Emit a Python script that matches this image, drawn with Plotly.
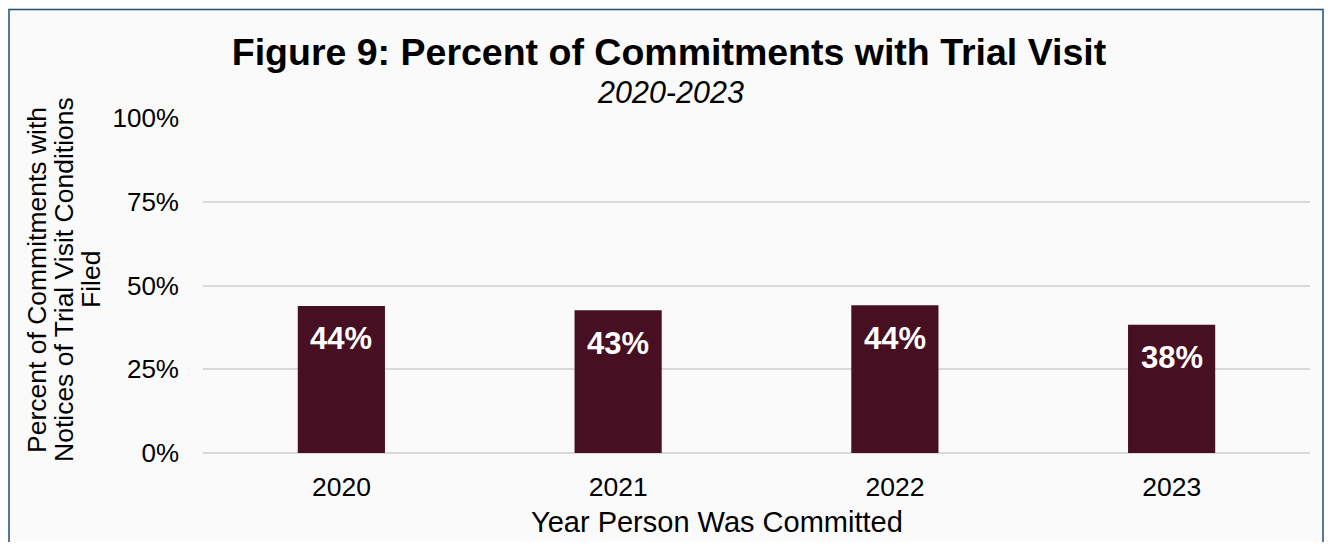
import plotly.graph_objects as go

years = ["2020", "2021", "2022", "2023"]
pct = [43.9, 42.6, 44.1, 38.3]
y_ticks = [0, 25, 50, 75, 100]
y_tick_text = ["0%", "25%", "50%", "75%", "100%"]
y_title_lines = ["Percent of Commitments with", "Notices of Trial Visit Conditions", "Filed"]

BAR = "#460F22"
FONT = "Liberation Sans, Arial, sans-serif"

# the page body has an 8px margin: figure pixel = screen pixel - 8
OFF = 8
W, H = 1332 - 2 * OFF, 550 - 2 * OFF
# plot area in screen pixels
L, R, T, B = 203, 1310, 118, 453
PW, PH = R - L, B - T


def px(x):
    return (x - L) / PW


def py(y):
    return (B - y) / PH


fig = go.Figure()
fig.add_trace(go.Bar(x=years, y=pct, marker=dict(color=BAR, line=dict(width=0)),
                     width=0.315, hoverinfo="skip"))

for i, v in enumerate(pct):
    fig.add_annotation(x=i, y=v, xref="x", yref="y", text=f"{round(v)}%",
                       showarrow=False, yanchor="middle", yshift=-33,
                       font=dict(family=FONT, size=31, color="white", weight="bold"))

fig.update_layout(
    width=W, height=H,
    margin=dict(l=L - OFF, r=W - (R - OFF), t=T - OFF, b=H - (B - OFF), autoexpand=False),
    paper_bgcolor="#FAFAFA", plot_bgcolor="#FAFAFA",
    showlegend=False,
    title=dict(text="<b>Figure 9: Percent of Commitments with Trial Visit</b>",
               x=(669 - OFF) / W, xref="container", xanchor="center",
               y=1 - (52 - OFF) / H, yref="container", yanchor="middle",
               font=dict(family=FONT, size=37.5, color="black")),
    font=dict(family=FONT, color="black"),
)

fig.add_annotation(text="<i>2020-2023</i>", xref="paper", yref="paper",
                   x=px(670), y=py(92), showarrow=False,
                   xanchor="center", yanchor="middle",
                   font=dict(family=FONT, size=30.5, color="black"))

for line, cx in zip(y_title_lines, [37, 64, 91]):
    fig.add_annotation(text=line, xref="paper", yref="paper", x=px(cx), y=py(280),
                       textangle=-90, showarrow=False, align="center",
                       xanchor="center", yanchor="middle",
                       font=dict(family=FONT, size=26.5, color="black"))

fig.add_annotation(text="Year Person Was Committed", xref="paper", yref="paper",
                   x=px(717), y=py(522), showarrow=False,
                   xanchor="center", yanchor="middle",
                   font=dict(family=FONT, size=29, color="black"))

fig.update_xaxes(type="category", range=[-0.5, 3.5], showline=False, showgrid=False,
                 ticks="", ticklabelstandoff=15, automargin=False,
                 tickfont=dict(family=FONT, size=26.5, color="black"))
fig.update_yaxes(range=[0, 100], tickvals=y_ticks, ticktext=y_tick_text,
                 showgrid=True, gridcolor="#D9D9D9", gridwidth=1.5,
                 zeroline=True, zerolinecolor="#D9D9D9", zerolinewidth=1.5,
                 showline=False, ticks="", ticklabelstandoff=23, automargin=False,
                 tickfont=dict(family=FONT, size=26, color="black"))

# outer border
fig.add_shape(type="rect", xref="paper", yref="paper",
              x0=px(9), x1=px(1323), y0=py(580), y1=py(9.5),
              line=dict(color="#1F4E79", width=1.5), fillcolor="rgba(0,0,0,0)",
              layer="above")

fig.write_html("out.html")
